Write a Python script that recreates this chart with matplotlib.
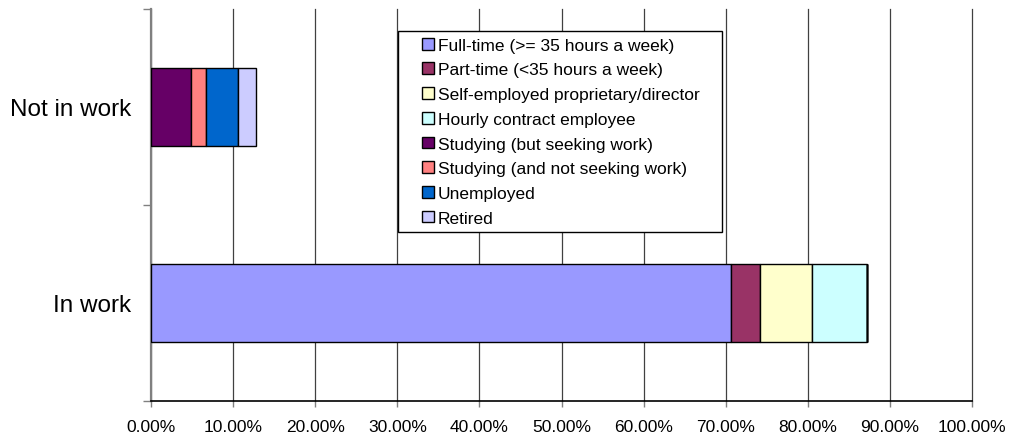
import matplotlib
matplotlib.use("Agg")
import matplotlib.pyplot as plt
from matplotlib.patches import Rectangle
from matplotlib.legend_handler import HandlerPatch
from matplotlib.ticker import FixedLocator

plt.rcParams["font.family"] = ["Liberation Sans", "DejaVu Sans"]

# data (percent of respondents), bottom category first
categories = ["In work", "Not in work"]
series = [
    "Full-time (>= 35 hours a week)",
    "Part-time (<35 hours a week)",
    "Self-employed proprietary/director",
    "Hourly contract employee",
    "Studying (but seeking work)",
    "Studying (and not seeking work)",
    "Unemployed",
    "Retired",
]
in_work = [70.6, 3.6, 6.33, 6.64, 0, 0, 0, 0]
not_in_work = [0, 0, 0, 0, 4.86, 1.82, 3.89, 2.23]
colors = ["#9999FF", "#993366", "#FFFFCC", "#CCFFFF",
          "#660066", "#FF8080", "#0066CC", "#CCCCFF"]
x_ticks = list(range(0, 101, 10))

W, H = 1010, 439
fig = plt.figure(figsize=(W / 100, H / 100), dpi=100)
ax = fig.add_axes([151 / W, 37 / H, (972 - 151) / W, (402 - 10) / H])

ypos = list(range(len(categories)))
left = [0.0] * len(categories)
handles = []
for name, a, b, c in zip(series, in_work, not_in_work, colors):
    vals = [a, b]
    bars = ax.barh(ypos, vals, left=left, height=0.4, color=c,
                   edgecolor="black", linewidth=1.0, label=name, zorder=3)
    handles.append(bars.patches[0])
    left = [l + v for l, v in zip(left, vals)]

ax.set_xlim(0, 100)
ax.set_ylim(-0.5, 1.5)
ax.set_xticks(x_ticks)
ax.set_xticklabels([f"{v:.2f}%" for v in x_ticks], fontsize=12.5)
ax.xaxis.grid(True, color="#404040", linewidth=0.9)
for gl in ax.get_xgridlines():
    gl.set_clip_on(False)
ax.set_axisbelow(True)

ax.set_yticks(ypos)
ax.set_yticklabels(categories, fontsize=17.5)
ax.yaxis.set_minor_locator(FixedLocator([-0.5, 0.5, 1.5]))
ax.tick_params(axis="y", which="major", length=0, pad=14)
ax.tick_params(axis="y", which="minor", length=6, width=1, color="#808080")
ax.tick_params(axis="x", length=4, width=1, color="#808080", pad=9)

for s in ("top", "right"):
    ax.spines[s].set_visible(False)
ax.spines["left"].set_color("#808080")
ax.spines["left"].set_linewidth(1.6)
ax.spines["bottom"].set_color("black")
ax.spines["bottom"].set_linewidth(1.2)


def square(legend, orig_handle, xdescent, ydescent, width, height, fontsize):
    # small square at the right end of the handle slot -> wide left margin
    s = 0.68 * fontsize
    return Rectangle((width - s - xdescent, -ydescent + (height - s) / 2), s, s)


leg = ax.legend(handles=handles, labels=series, loc="upper left",
                bbox_to_anchor=(398 / W, 1 - 231 / H, 324 / W, 199 / H),
                bbox_transform=fig.transFigure, mode="expand",
                handler_map={Rectangle: HandlerPatch(patch_func=square)},
                frameon=True, facecolor="white", edgecolor="black",
                framealpha=1.0, fancybox=False, fontsize=12.5,
                handlelength=1.68, handleheight=0.7, handletextpad=0.25,
                labelspacing=0.55, borderpad=0.38, borderaxespad=0)
leg.get_frame().set_linewidth(1.0)
leg.set_zorder(11)

fig.savefig("out.png", dpi=100)
